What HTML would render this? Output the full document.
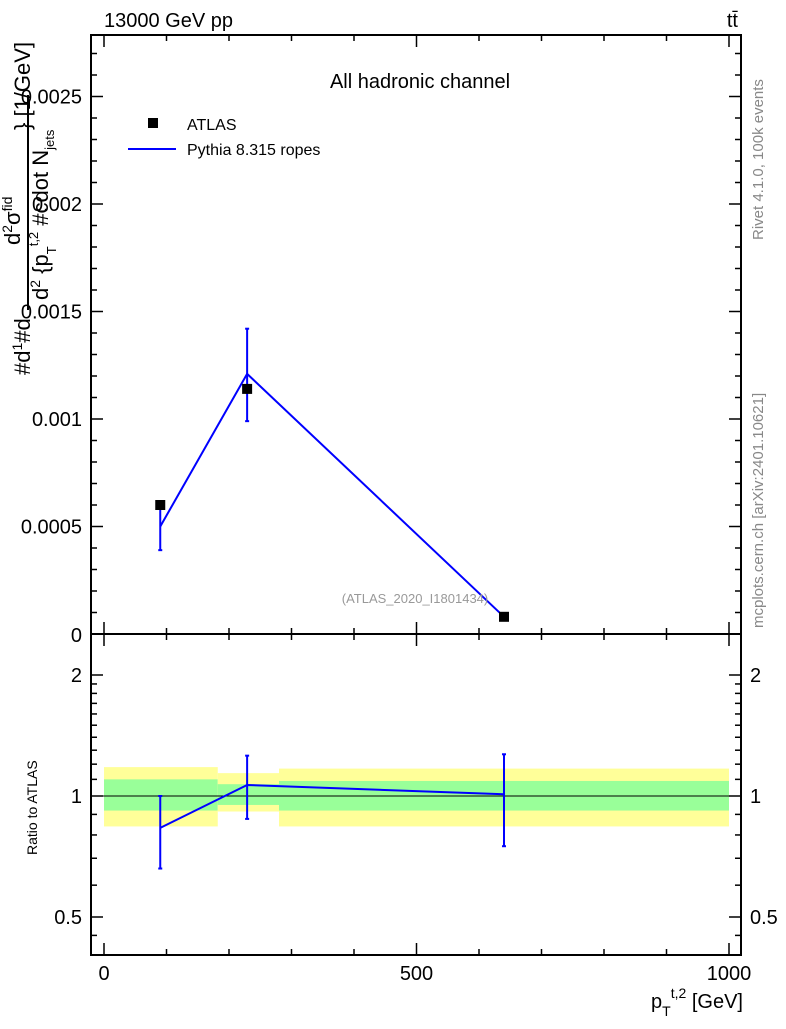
<!DOCTYPE html>
<html><head><meta charset="utf-8"><style>
body{margin:0;background:#fff;}
svg{font-family:"Liberation Sans",sans-serif;}
</style></head><body>
<svg id="c" width="786" height="1024" xmlns="http://www.w3.org/2000/svg"></svg>
<script>
const binLo=[0,182,280];
const binHi=[182,280,1000];
const xPts=[90,229,640];
const dataVals=[0.0006,0.00114,0.00008];
const mcVals=[0.0005,0.00121,0.00008];
const mcErrLo=[0.00039,0.00099,0.00007];
const mcErrHi=[0.0006,0.00142,0.00009];
const ratioMc=[0.833,1.065,1.01];
const ratioErrLo=[0.66,0.877,0.75];
const ratioErrHi=[1.0,1.26,1.27];
const bandYelLo=[0.84,0.915,0.84];
const bandYelHi=[1.18,1.14,1.17];
const bandGrnLo=[0.92,0.95,0.92];
const bandGrnHi=[1.1,1.07,1.09];
const yTicks=[0.0005,0.001,0.0015,0.002,0.0025];
const yTickLabels=["0.0005","0.001","0.0015","0.002","0.0025"];
const xTicks=[0,500,1000];
const rTicks=[0.5,1,2];

const svg=document.getElementById('c');
const NS='http://www.w3.org/2000/svg';
function el(t,a,p){const e=document.createElementNS(NS,t);for(const k in a)e.setAttribute(k,a[k]);(p||svg).appendChild(e);return e;}
const L=91,R=741,T=35,M=634,B=955;
const X=v=>104+v*0.625;
const Y=v=>634-v*215000;
const RY=r=>796-121*Math.log2(r);

for(let i=0;i<3;i++){
 let r=el('rect',{x:X(binLo[i]),y:RY(bandYelHi[i]),width:X(binHi[i])-X(binLo[i]),height:RY(bandYelLo[i])-RY(bandYelHi[i]),fill:'#ffff99'});
 
 
 let g=el('rect',{x:X(binLo[i]),y:RY(bandGrnHi[i]),width:X(binHi[i])-X(binLo[i]),height:RY(bandGrnLo[i])-RY(bandGrnHi[i]),fill:'#99ff99'});
 
 
}
el('line',{x1:L,x2:R,y1:RY(1),y2:RY(1),stroke:'#000','stroke-width':1});

el('rect',{x:L,y:T,width:R-L,height:M-T,fill:'none',stroke:'#000','stroke-width':2});
el('rect',{x:L,y:M,width:R-L,height:B-M,fill:'none',stroke:'#000','stroke-width':2});

for(let v=0;v<=1000;v+=100){
 const big=v%500===0;
 el('line',{x1:X(v),x2:X(v),y1:B,y2:B-(big?12:6),stroke:'#000','stroke-width':1.5});
 el('line',{x1:X(v),x2:X(v),y1:M,y2:M-(big?12:6),stroke:'#000','stroke-width':1.5});
 el('line',{x1:X(v),x2:X(v),y1:M,y2:M+(big?12:6),stroke:'#000','stroke-width':1.5});
 el('line',{x1:X(v),x2:X(v),y1:T,y2:T+(big?12:6),stroke:'#000','stroke-width':1.5});
}
xTicks.forEach(v=>{const t=el('text',{x:X(v),y:980,'font-size':20,'text-anchor':'middle'});t.textContent=v;
 });

for(let k=0;k<=27;k++){
 const v=k*0.0001,len=k%5===0?12:6,y=Y(v);
 el('line',{x1:L,x2:L+len,y1:y,y2:y,stroke:'#000','stroke-width':1.5});
 el('line',{x1:R,x2:R-len,y1:y,y2:y,stroke:'#000','stroke-width':1.5});
}
yTicks.forEach((v,i)=>{const t=el('text',{x:82,y:Y(v)+7,'font-size':20,'text-anchor':'end'});t.textContent=yTickLabels[i];
 });
el('text',{x:82,y:642,'font-size':20,'text-anchor':'end'}).textContent='0';

const minorR=[0.5,0.6,0.7,0.8,0.9,1,1.1,1.2,1.3,1.4,1.5,1.6,1.7,1.8,1.9,2];
minorR.forEach(r=>{const big=rTicks.includes(r),len=big?12:6,y=RY(r);
 el('line',{x1:L,x2:L+len,y1:y,y2:y,stroke:'#000','stroke-width':1.5});
 el('line',{x1:R,x2:R-len,y1:y,y2:y,stroke:'#000','stroke-width':1.5});});
el('line',{x1:L,x2:L+6,y1:RY(0.45),y2:RY(0.45),stroke:'#000','stroke-width':1.5});
el('line',{x1:R,x2:R-6,y1:RY(0.45),y2:RY(0.45),stroke:'#000','stroke-width':1.5});
rTicks.forEach(r=>{
 const a=el('text',{x:82,y:RY(r)+7,'font-size':20,'text-anchor':'end'});a.textContent=r;
 const b=el('text',{x:750,y:RY(r)+7,'font-size':20});b.textContent=r;});

let pts=xPts.map((x,i)=>X(x)+','+Y(mcVals[i])).join(' ');
let pl=el('polyline',{points:pts,fill:'none',stroke:'#0000ff','stroke-width':2});


xPts.forEach((x,i)=>{
 el('line',{x1:X(x),x2:X(x),y1:Y(mcErrLo[i]),y2:Y(mcErrHi[i]),stroke:'#0000ff','stroke-width':2});
 [mcErrLo[i],mcErrHi[i]].forEach(v=>el('line',{x1:X(x)-2,x2:X(x)+2,y1:Y(v),y2:Y(v),stroke:'#0000ff','stroke-width':2}));
 const m=el('rect',{x:X(x)-5,y:Y(dataVals[i])-5,width:10,height:10,fill:'#000'});
 
 
});
pts=xPts.map((x,i)=>X(x)+','+RY(ratioMc[i])).join(' ');
pl=el('polyline',{points:pts,fill:'none',stroke:'#0000ff','stroke-width':2});


xPts.forEach((x,i)=>{
 el('line',{x1:X(x),x2:X(x),y1:RY(ratioErrLo[i]),y2:RY(ratioErrHi[i]),stroke:'#0000ff','stroke-width':2});
 [ratioErrLo[i],ratioErrHi[i]].forEach(v=>el('line',{x1:X(x)-2,x2:X(x)+2,y1:RY(v),y2:RY(v),stroke:'#0000ff','stroke-width':2}));
});
</script>
<svg style="position:absolute;left:0;top:0" width="786" height="1024" xmlns="http://www.w3.org/2000/svg" font-family="Liberation Sans, sans-serif">
<text x="104" y="27" font-size="20">13000 GeV pp</text>
<text x="738" y="27" font-size="20" text-anchor="end">tt̄</text>
<text x="420" y="88" font-size="20" text-anchor="middle">All hadronic channel</text>
<rect x="148" y="118" width="10" height="10" fill="#000"/>
<text x="187" y="130" font-size="16">ATLAS</text>
<line x1="128" x2="176" y1="149" y2="149" stroke="#0000ff" stroke-width="2"/>
<text x="187" y="155" font-size="16">Pythia 8.315 ropes</text>
<text x="415" y="603" font-size="13" fill="#999" text-anchor="middle">(ATLAS_2020_I1801434)</text>
<text transform="translate(763,240) rotate(-90)" font-size="15" fill="#888">Rivet 4.1.0,  100k events</text>
<text transform="translate(763,628) rotate(-90)" font-size="15" fill="#888">mcplots.cern.ch [arXiv:2401.10621]</text>
<g>
<text transform="translate(30,375) rotate(-90)" font-size="22">#d<tspan font-size="14" dy="-8">1</tspan><tspan dy="8">#d</tspan></text>
<line x1="28" x2="28" y1="95" y2="310" stroke="#000" stroke-width="2"/>
<text transform="translate(48,300) rotate(-90)" font-size="22">d<tspan font-size="14" dy="-8">2</tspan><tspan dy="8"> {p</tspan><tspan font-size="13" dy="8">T</tspan><tspan font-size="13" dy="-18">t,2</tspan><tspan dy="10"> #cdot N</tspan><tspan font-size="13" dy="6">jets</tspan></text>
<text transform="translate(20,245) rotate(-90)" font-size="22">d<tspan font-size="14" dy="-8">2</tspan><tspan dy="8">σ</tspan><tspan font-size="14" dy="-8">fid</tspan></text>
<text transform="translate(30,130) rotate(-90)" font-size="22">} [1/GeV]</text>
</g>
<text transform="translate(37,855) rotate(-90)" font-size="14">Ratio to ATLAS</text>
<text x="743" y="1008" font-size="20" text-anchor="end">p<tspan font-size="14" dy="8">T</tspan><tspan font-size="14" dy="-18">t,2</tspan><tspan dy="10"> [GeV]</tspan></text>
</svg>
</body></html>
